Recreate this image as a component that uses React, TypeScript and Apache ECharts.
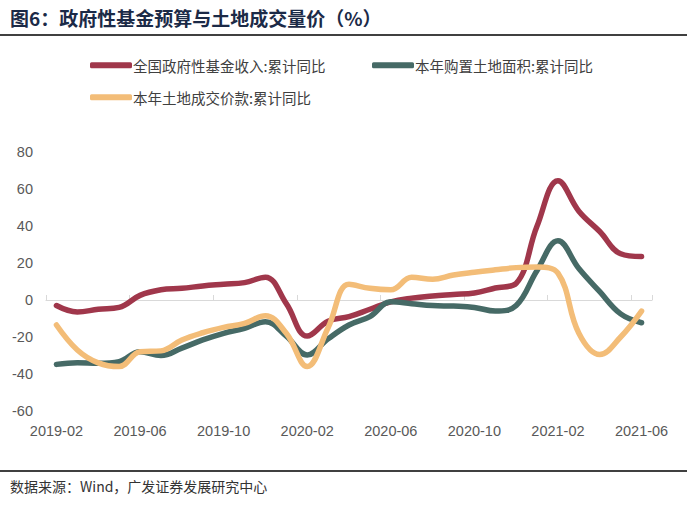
import React, { useEffect, useRef } from "react";
import * as echarts from "echarts";

const categories = [
  "2019-02", "2019-03", "2019-04", "2019-05", "2019-06", "2019-07", "2019-08", "2019-09",
  "2019-10", "2019-11", "2019-12", "2020-01", "2020-02", "2020-03", "2020-04", "2020-05",
  "2020-06", "2020-07", "2020-08", "2020-09", "2020-10", "2020-11", "2020-12", "2021-01",
  "2021-02", "2021-03", "2021-04", "2021-05", "2021-06",
];

const fundIncome = [
  -3, -6.5, -5, -4, 2.5, 5.5, 6.3, 7.6, 8.5, 9.4, 12.3, -2, -19.5, -11.5, -9, -5,
  -1, 1, 2.2, 3, 3.8, 6.5, 9, 40, 64.5, 48, 37, 25, 23.5,
];

const landArea = [
  -34.8, -33.9, -34.2, -33.3, -28, -30, -26, -21.6, -18, -15.3, -11.7, -19.5, -29.7, -21,
  -13.5, -9, -1, -2, -3, -3.3, -4, -6, -3, 16, 32, 17, 4.5, -7.5, -12.3,
];

const landPrice = [
  -13.5, -27, -34, -36, -28, -27.5, -21.6, -17.7, -14.8, -12.6, -8.5, -18, -36, -15, 8.5,
  6.3, 5.5, 12.3, 11.2, 13.5, 15, 16.3, 17.5, 17.8, 14.5, -18, -29.5, -20, -6,
];

const seriesNames = [
  "全国政府性基金收入:累计同比",
  "本年购置土地面积:累计同比",
  "本年土地成交价款:累计同比",
];
const seriesColors = ["#A0374B", "#466A66", "#F3BD78"];

const titleText = "图6：政府性基金预算与土地成交量价（%）";
const sourceText = "数据来源：Wind，广发证券发展研究中心";

export default function App() {
  const ref = useRef<HTMLDivElement>(null);

  useEffect(() => {
    document.body.style.margin = "0";
    if (!ref.current) return;
    const chart = echarts.init(ref.current, undefined, { renderer: "svg" });
    const cjk = "'Noto Sans CJK SC', sans-serif";
    const latin = "'Liberation Sans', Arial, sans-serif";
    const legendBase = {
      itemWidth: 42,
      itemHeight: 6,
      icon: "roundRect",
      textStyle: {
        fontFamily: cjk,
        fontSize: 14.5,
        color: "#404040",
        padding: [0, 0, 0, -4],
      },
    };
    const seriesData = [fundIncome, landArea, landPrice];
    chart.setOption({
      animation: false,
      backgroundColor: "#ffffff",
      color: seriesColors,
      grid: { left: 46, right: 35, top: 152, bottom: 103, containLabel: false },
      legend: [
        { ...legendBase, data: [seriesNames[0]], left: 85, top: 53 },
        { ...legendBase, data: [seriesNames[1]], left: 367, top: 53 },
        { ...legendBase, data: [seriesNames[2]], left: 85, top: 85 },
      ],
      xAxis: [
        {
          type: "category",
          data: categories,
          boundaryGap: true,
          position: "bottom",
          axisLine: { show: false, onZero: false },
          axisTick: { show: false },
          axisLabel: {
            interval: 3,
            fontFamily: latin,
            fontSize: 14.5,
            color: "#595959",
            margin: 12,
          },
          splitLine: { show: false },
        },
        {
          type: "category",
          data: categories,
          boundaryGap: true,
          position: "bottom",
          axisLine: { show: true, onZero: true, lineStyle: { color: "#D9D9D9", width: 1.2 } },
          axisTick: { show: true, inside: true, interval: 3, length: 5, lineStyle: { color: "#D9D9D9" } },
          axisLabel: { show: false },
          splitLine: { show: false },
        },
      ],
      yAxis: {
        type: "value",
        min: -60,
        max: 80,
        interval: 20,
        axisLine: { show: false },
        axisTick: { show: false },
        splitLine: { show: false },
        axisLabel: {
          fontFamily: latin,
          fontSize: 14.5,
          color: "#595959",
          margin: 13,
        },
      },
      series: seriesNames.map((name, i) => ({
        name,
        type: "line",
        xAxisIndex: 0,
        data: seriesData[i],
        smooth: 0.4,
        symbol: "none",
        lineStyle: { width: 5.5, color: seriesColors[i], cap: "round", join: "round" },
        itemStyle: { color: seriesColors[i] },
      })),
      graphic: [
        {
          type: "text",
          left: 10,
          top: 8,
          style: {
            text: titleText,
            font: `bold 19px ${cjk}`,
            fill: "#1B2A47",
          },
        },
        {
          type: "line",
          shape: { x1: 0, y1: 35, x2: 687, y2: 35 },
          style: { stroke: "#000000", lineWidth: 1.5 },
        },
        {
          type: "line",
          shape: { x1: 0, y1: 471, x2: 687, y2: 471 },
          style: { stroke: "#000000", lineWidth: 1.5 },
        },
        {
          type: "text",
          left: 10,
          top: 479,
          style: {
            text: sourceText,
            font: `14px ${cjk}`,
            fill: "#333333",
          },
        },
      ],
    });
    return () => chart.dispose();
  }, []);

  return <div ref={ref} style={{ width: 687, height: 514 }} />;
}
